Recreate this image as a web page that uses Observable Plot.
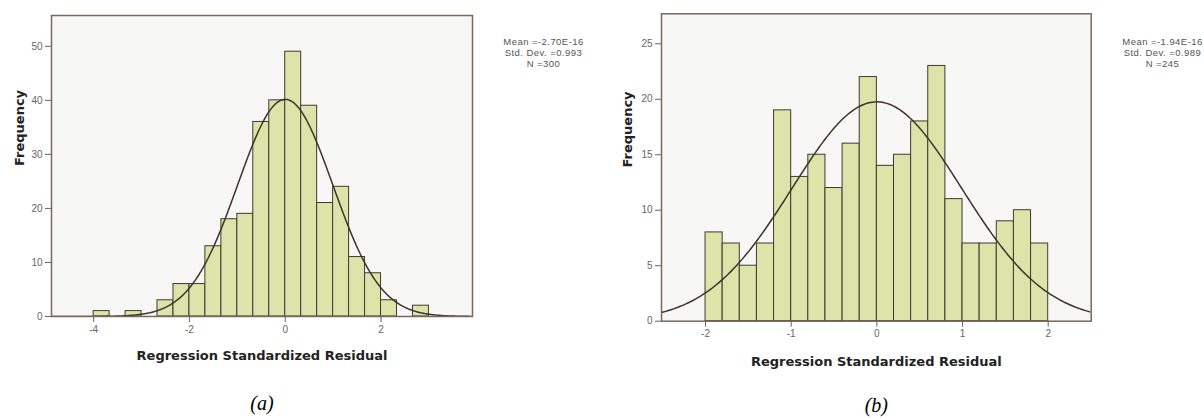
<!DOCTYPE html>
<html><head><meta charset="utf-8">
<script src="https://cdn.jsdelivr.net/npm/d3@7"></script>
<script src="https://cdn.jsdelivr.net/npm/@observablehq/plot@0.6"></script>
<style>
body{margin:0;background:#fff;}
#wrap{position:relative;width:1204px;height:419px;overflow:hidden;}
.panel{position:absolute;top:0;overflow:hidden;}
</style></head><body><div id="wrap"></div>
<script>
// ---- Panel (a) data ----
const binStartA = [-4, -3.333, -2.667, -2.333, -2, -1.667, -1.333, -1, -0.667, -0.333, 0, 0.333, 0.667, 1, 1.333, 1.667, 2, 2.667];
const countsA   = [1, 1, 3, 6, 6, 13, 18, 19, 36, 40, 49, 39, 21, 24, 11, 8, 3, 2];
const binWidthA = 1/3;
const statsA = {mean: -2.70e-16, sd: 0.993, n: 300};
const legendA = ["Mean =-2.70E-16", "Std. Dev. =0.993", "N =300"];
const xTicksA = [-4, -2, 0, 2];
const yTicksA = [0, 10, 20, 30, 40, 50];

// ---- Panel (b) data ----
const binStartB = [-2, -1.8, -1.6, -1.4, -1.2, -1, -0.8, -0.6, -0.4, -0.2, 0, 0.2, 0.4, 0.6, 0.8, 1, 1.2, 1.4, 1.6, 1.8];
const countsB   = [8, 7, 5, 7, 19, 13, 15, 12, 16, 22, 14, 15, 18, 23, 11, 7, 7, 9, 10, 7];
const binWidthB = 0.2;
const statsB = {mean: -1.94e-16, sd: 0.989, n: 245};
const legendB = ["Mean =-1.94E-16", "Std. Dev. =0.989", "N =245"];
const xTicksB = [-2, -1, 0, 1, 2];
const yTicksB = [0, 5, 10, 15, 20, 25];

const xLabel = "Regression Standardized Residual";
const yLabel = "Frequency";

function panel(o) {
  const bars = o.bins.map((b, i) => ({x1: b, x2: b + o.bw, count: o.counts[i]}));
  const {mean, sd, n} = o.stats;
  const k = n * o.bw / (sd * Math.sqrt(2 * Math.PI));
  const curve = d3.range(o.xDomain[0], o.xDomain[1] + 0.001, 0.02)
    .map(x => ({x, y: k * Math.exp(-((x - mean) ** 2) / (2 * sd * sd))}));
  const labelFont = "DejaVu Sans";
  const svg = Plot.plot({
    width: o.width, height: 419,
    marginLeft: o.ml, marginRight: o.width - o.frameRight, marginTop: o.mt, marginBottom: 419 - o.frameBottom,
    x: {domain: o.xDomain},
    y: {domain: o.yDomain},
    style: {fontFamily: "Liberation Sans", fontSize: "10px", color: "#666", background: "transparent"},
    marks: [
      Plot.frame({fill: "#f7f7f5"}),
      Plot.rectY(bars, {x1: "x1", x2: "x2", y: "count", fill: "#dce4aa", stroke: "#3f3a2e", strokeWidth: 1}),
      Plot.line(curve, {x: "x", y: "y", stroke: "#3d332c", strokeWidth: 1.5, clip: true}),
      Plot.frame({stroke: "#7b675c", strokeWidth: 1.5}),
      Plot.axisX({ticks: o.xTicks, tickSize: 6, tickPadding: 3, tickFormat: d => String(d), label: null}),
      Plot.axisY({ticks: o.yTicks, tickSize: 6, tickPadding: 3, tickFormat: d => String(d), label: null}),
      Plot.text([yLabel], {frameAnchor: "left", dx: o.yLabelDx, rotate: -90, fontWeight: "bold", fontSize: 13, fontFamily: labelFont, fill: "#222"}),
      Plot.text([xLabel], {frameAnchor: "bottom", dy: o.xLabelDy, lineAnchor: "bottom", fontWeight: "bold", fontSize: 13, fontFamily: labelFont, fill: "#222"}),
      Plot.text([o.legend.join("\n")], {frameAnchor: "top-left", dx: o.legDx, dy: o.legDy, textAnchor: "middle", lineAnchor: "top", lineHeight: 1.18, fontSize: 9.5, fill: "#555"}),
      Plot.text([o.caption], {frameAnchor: "bottom", dy: o.capDy, lineAnchor: "bottom", fontSize: 20, fontStyle: "italic", fontFamily: "Liberation Serif", fill: "#000"})
    ]
  });
  d3.select(svg).selectAll("text")
    .filter(function() { return this.textContent.startsWith("Mean ="); })
    .style("letter-spacing", "0.45px");
  return svg;
}

const wrap = document.getElementById("wrap");
function place(svg, left, width) {
  const d = document.createElement("div");
  d.className = "panel";
  d.style.left = left + "px";
  d.style.width = width + "px";
  d.style.height = "419px";
  d.appendChild(svg);
  wrap.appendChild(d);
}

place(panel({
  bins: binStartA, counts: countsA, bw: binWidthA, stats: statsA, legend: legendA,
  xTicks: xTicksA, yTicks: yTicksA,
  xDomain: [-4.88, 3.91], yDomain: [0, 55.7],
  width: 600, ml: 51, frameRight: 472, mt: 15, frameBottom: 316,
  yLabelDx: -32, xLabelDy: 43.5, legDx: 492, legDy: 21.6, capDy: 93, caption: "(a)"
}), 0, 600);

place(panel({
  bins: binStartB, counts: countsB, bw: binWidthB, stats: statsB, legend: legendB,
  xTicks: xTicksB, yTicks: yTicksB,
  xDomain: [-2.514, 2.502], yDomain: [0, 27.7],
  width: 614, ml: 71, frameRight: 500.7, mt: 13.3, frameBottom: 320.7,
  yLabelDx: -34, xLabelDy: 45, legDx: 501, legDy: 23.3, capDy: 90.5, caption: "(b)"
}), 590, 614);
</script></body></html>
